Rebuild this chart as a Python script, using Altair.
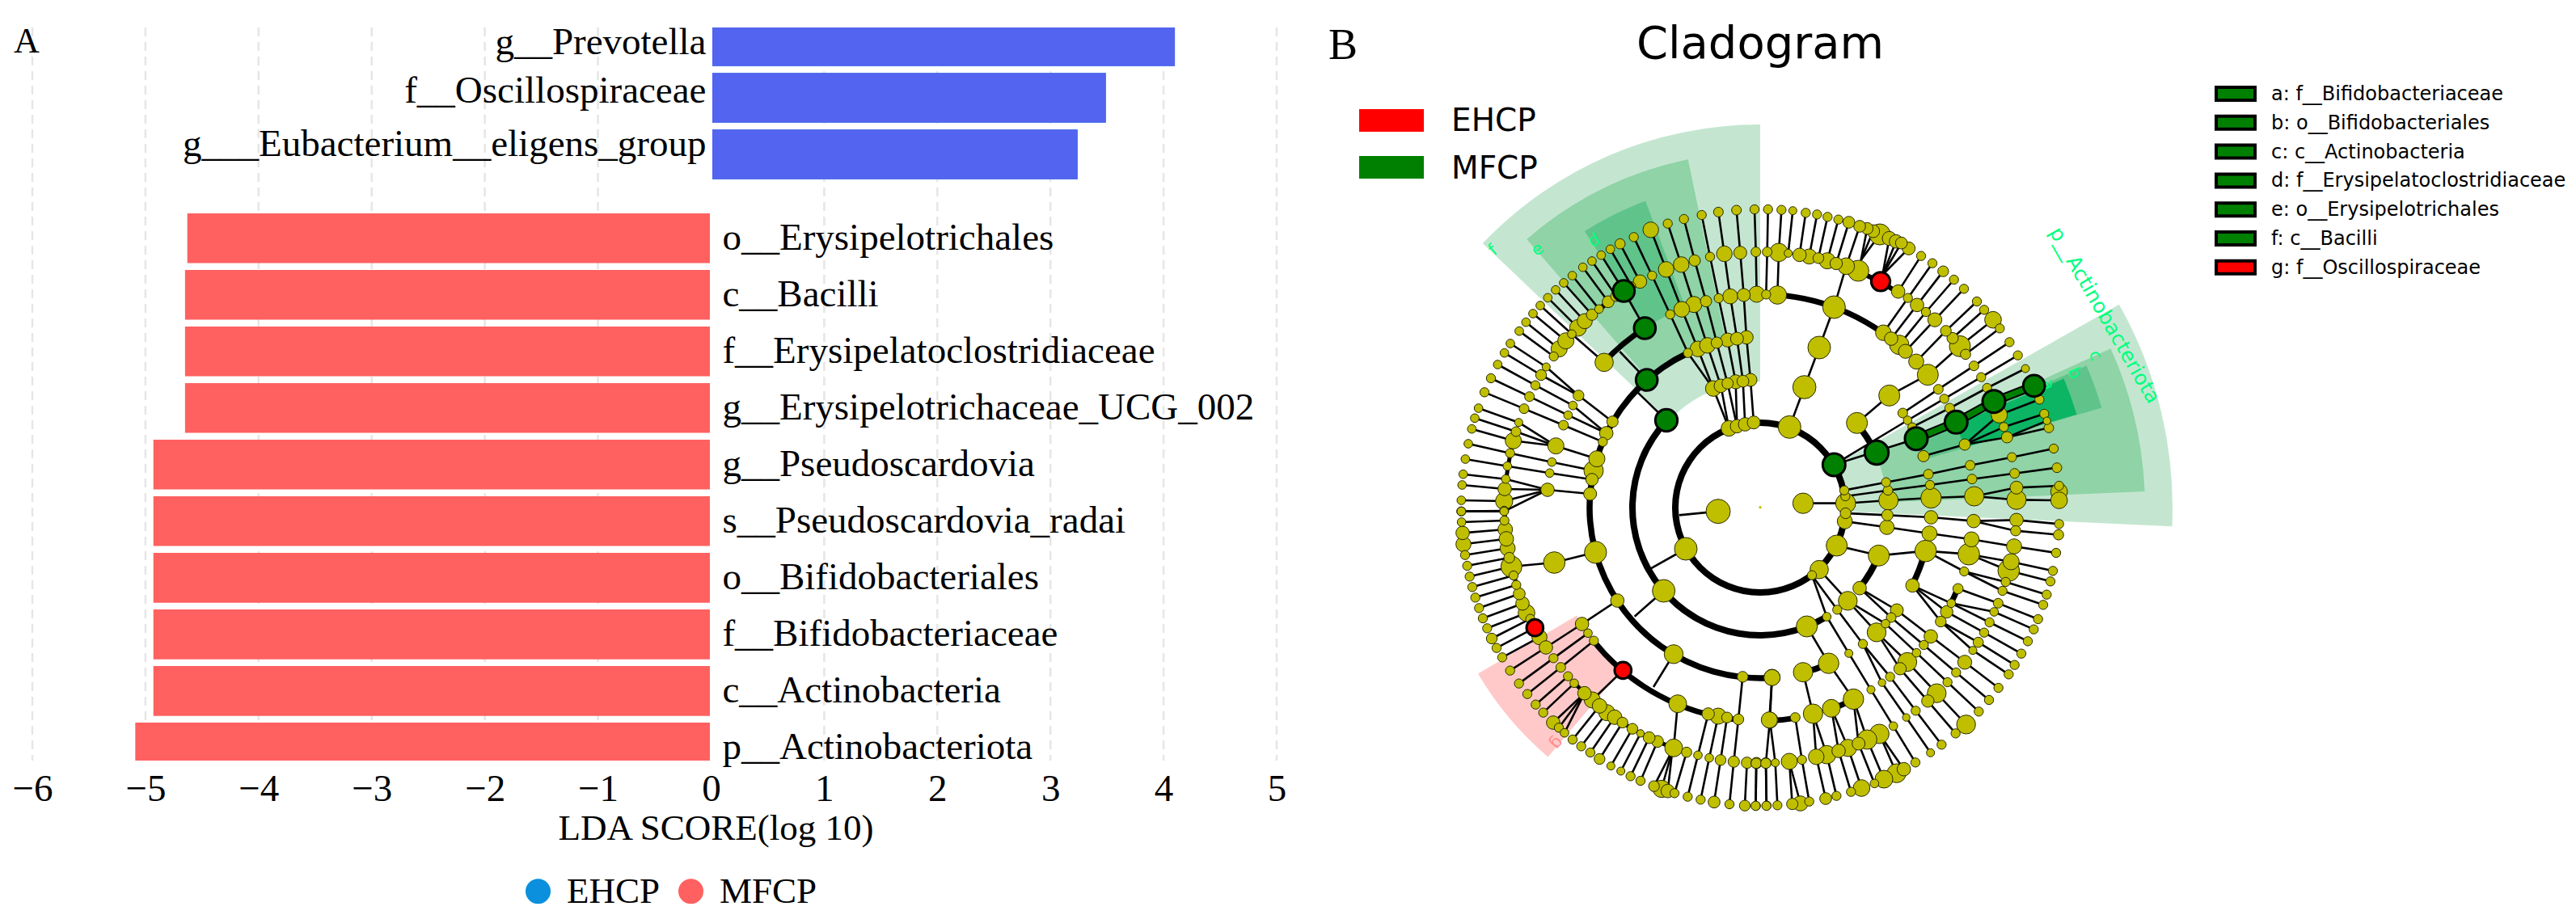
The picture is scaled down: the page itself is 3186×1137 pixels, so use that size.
import math
import altair as alt
import pandas as pd

# ---------- Panel A data ----------
taxa = ["g__Prevotella", "f__Oscillospiraceae", "g___Eubacterium__eligens_group",
        "o__Erysipelotrichales", "c__Bacilli", "f__Erysipelatoclostridiaceae",
        "g__Erysipelotrichaceae_UCG_002", "g__Pseudoscardovia", "s__Pseudoscardovia_radai",
        "o__Bifidobacteriales", "f__Bifidobacteriaceae", "c__Actinobacteria", "p__Actinobacteriota"]
lda = [4.10, 3.49, 3.24, -4.63, -4.65, -4.65, -4.65, -4.93, -4.93, -4.93, -4.93, -4.93, -5.09]
groups = ["EHCP"] * 3 + ["MFCP"] * 10
label_shift = [0.23, 0.08, 0.03] + [0.2] * 10
ticks = list(range(-6, 6))

# ---------- Panel B data: chains of nodes, (x, y, diameter) ----------
Q1 = [
 [(234,555,32),(367,642,30),(487,748,40),(613,845,42)], [(212,590,32),(348,672,40),(487,748)],
 [(187,633,32),(327,710,34),(466,785,32),(590,888,50)], [(162,684,34),(305,752,36),(448,821,32),(590,888)],
 [(138,736,34),(285,797,36),(431,858,36),(577,920,34)], [(116,795,32),(265,848,30),(403,935,60)],
 [(102,832,32),(255,882,36),(403,935),(555,983,60)], [(91,872,32),(245,916,60),(403,935)],
 [(78,927,32),(233,962,34),(388,995,32),(543,1027,72)], [(67,984,32),(223,1010,32),(380,1036,32),(537,1060,46)],
 [(59,1040,32),(217,1058,32),(372,1098,50)], [(55,1080,32),(213,1095,50),(372,1098),(530,1113,48)],
 [(52,1137,32),(211,1140,64),(372,1098)], [(52,1178,32),(211,1178,32),(372,1098)],
 [(267,509,32),(395,603,34)], [(292,476,32),(415,575,60)], [(318,444,32),(440,545,60)],
 [(345,414,32),(462,520,32),(582,625,68)], [(373,385,32),(485,497,62)], [(402,356,32),(510,472,56)],
 [(432,330,32),(537,448,42)], [(464,303,32),(563,427,32)], [(503,272,32),(597,400,44)],
 [(537,249,32),(626,379,40)], [(571,227,32),(655,360)], [(605,205,32),(684,341,30)], [(641,185,38),(715,325,50)],
 [(655,360),(733,498)], [(640,585),(740,690)], [(813,840),(705,735)], [(1005,1178,90),(860,1192)],
 [(692,160,34),(760,303,34),(827,447,34),(893,590,34),(987,722,58),(1045,870,58)],
 [(755,133,58),(812,280,58),(870,428,58),(930,575,58),(987,722)],
 [(818,110,34),(868,262,58),(915,410,60),(965,562,58),(1015,712,50),(1045,870)],
 [(878,93,34),(918,247,42),(960,398,42),(1000,552,42),(1040,703,42),(1075,862,50)],
 [(944,78,34),(975,233,34),(1007,387,34),(1040,542,52),(1070,697,52),(1075,862)],
 [(1006,67,36),(1028,222,58),(1050,380,56),(1075,537,48),(1097,695,44),(1105,855,50)],
 [(1073,60,36),(1087,218,48),(1100,375,48),(1110,532,50),(1125,690,48),(1137,848,48)],
 [(1140,57,34),(1145,215,36),(1148,372,60)], [(1190,57,34),(1187,215,36),(1183,373,34)],
]
Q2 = [
 [(100,59,34),(90,217,68),(85,375,68)], [(142,62,30),(125,220,30)], [(190,70,34),(167,226,50)],
 [(232,76,34),(203,232,56)], [(271,85,34),(237,238,40)], [(311,95,34),(270,248,60)],
 [(350,105,44),(303,258,46)], [(390,120,44),(340,268,62),(295,420,84),(240,570,84),(185,717,86),(130,865,84)],
 [(395,245),(418,128,44)], [(395,245),(440,138,48)], [(395,245),(465,150,78)], [(385,285,78)],
 [(475,300),(500,165,52)], [(475,300),(525,176,50)], [(475,300),(545,182,44)], [(475,300),(572,202,48)],
 [(618,230,34),(533,362,50)], [(660,257,34),(569,386,34),(478,515,58)], [(700,287,40),(603,412,50),(507,537,50)],
 [(740,318,34),(636,438,34),(537,560,72)], [(777,352,34),(669,467,52),(560,584,52)],
 [(825,399,34),(710,508,40),(600,622,56)], [(852,430,34),(735,535,42)],
 [(885,467,62),(762,565,78),(643,671,78),(500,748,78),(380,850,78)], [(910,499,34),(783,595,38)],
 [(946,550,34),(814,638,36),(682,725,36),(550,813,36)], [(977,599,34),(841,680,34),(704,760,34),(568,840,32),(295,1005)],
 [(1005,648,30),(863,720,34),(724,795,36),(585,865,32)], [(600,908),(295,1005)],
 [(1092,868,36),(937,903,42),(780,930,42),(627,973,42)], [(1085,842,28),(937,903)],
 [(1075,816,34),(925,865,34),(780,930)], [(1057,763,34),(908,820,60),(780,930)],
 [(1110,945,34),(955,977,34),(800,1007,36),(645,1040,36),(488,1070,34),(333,1100,34)],
 [(1122,1016,36),(965,1037,36),(807,1058,36),(651,1080,34),(495,1100,36),(337,1122,34)],
 [(1130,1083,34),(972,1090,48),(815,1122,72)], [(1130,1105,62)],
 [(1130,1137,62),(972,1135,72),(815,1122),(655,1128,76),(497,1137,72),(338,1148,74),(180,1148,76)],
]
Q3 = [
 [(52,38,34),(211,36,34)], [(53,78,32),(212,72,34)], [(57,118,50),(215,105,54)], [(60,160,56),(219,140,54)],
 [(66,200,34),(224,175,56)], [(74,240,34),(230,210,40)], [(83,280,34),(238,243,78),(397,228,80),(550,190,82)],
 [(93,319,34),(246,276,34)], [(104,358,34),(256,311,34)], [(118,397,34),(267,344,44)], [(132,435,34),(279,380,50)],
 [(148,472,34),(294,415,62)], [(165,510,40),(308,437,34)], [(183,545,34),(325,470)], [(204,580,34),(342,505,56)],
 [(233,629,34),(366,543,50),(500,456,50),(631,369,50)], [(266,677,34),(394,583,34),(522,490,32)],
 [(297,716,34),(421,617,36),(544,518,34)], [(328,755,34),(448,650,34)], [(356,785,34),(471,676,32),(509,713,50)],
 [(393,822,50),(509,713)], [(414,841,34),(509,713)], [(435,860,32),(509,713)], [(465,885,34),(565,760,54)],
 [(538,738,60),(652,628)], [(497,910,34),(592,785,60)], [(531,933,34),(621,802,54)], [(565,957,40),(650,822,40)],
 [(607,983,30),(687,845,40)], [(644,1002,30),(717,862,28)], [(680,1021,34),(749,878,44)], [(717,1038,34),(780,892,44)],
 [(767,1058,40),(835,925)], [(795,1068,64),(835,925)], [(818,1076,50),(835,925)], [(843,1084,34),(888,932,38)],
 [(840,916,66),(855,752,66)], [(892,1097,34),(930,943,32),(968,790,46)], [(940,1108,34),(972,953,32),(1005,798,60)],
 [(990,1117,44),(1014,961,40),(1038,803,40)], [(1047,1125,34),(1063,967,42),(1080,810,40),(1096,652,40)],
 [(1104,1130,40),(1112,971,42)], [(1144,1131,34),(1147,972,42)], [(1184,1131,34),(1182,973,38)],
 [(1195,812,60),(1205,655,60)], [(840,568,70),(765,690)], [(885,177,84),(755,250)], [(803,333,84),(695,428)],
]
Q4 = [
 [(1130,85,34),(972,70,50),(813,74,50),(655,60,50),(493,52,42),(338,45,40)], [(1128,125,38),(969,110,38),(813,74)],
 [(1119,192,34),(963,168,56),(805,142,56),(649,120,56),(491,97,54),(335,75,56)],
 [(1107,259,34),(952,225,60),(795,197,80),(635,185,80)], [(1098,298,34),(943,258,80),(795,197)],
 [(1084,347,34),(932,300,34),(778,261,34),(635,185)], [(1071,385,34),(920,333,34),(778,261)],
 [(1052,438,34),(904,379,36),(755,325,38)], [(1036,476,34),(889,411,32),(730,379,32),(586,313,50)],
 [(1014,520,34),(872,450,34),(730,379)], [(990,566,34),(852,488,34),(713,411,46),(586,313)],
 [(965,608,34),(830,524,38),(691,447,40),(586,313)], [(943,643,34),(810,554,30),(691,447)],
 [(905,693,34),(780,598,52),(654,502,50),(528,405,48),(390,323,50)], [(870,738,34),(748,636,34),(628,534,34),(507,432,36),(390,323)],
 [(832,781,34),(716,672,34),(601,563,32),(486,455,32),(346,370,70)], [(785,829,70),(676,713,70),(567,597,70),(453,487,70),(346,370)],
 [(746,862,34),(643,742,46),(540,622,46),(453,487)], [(694,904,34),(598,778,34),(503,652,34),(402,530,34),(307,403,34),(213,275,34)],
 [(653,934,30),(563,803,28),(473,674,28),(402,530)], [(597,970,34),(515,835,32),(432,700,30),(350,565,30),(268,429,32),(213,275)],
 [(554,995,50),(463,864,72)], [(527,1010,70),(463,864)], [(480,1032,66),(418,885,72),(367,735,76),(275,602,76),(194,465,78)],
 [(445,1048,32),(386,900,48),(367,735)], [(397,1065,62),(347,916,64),(285,769,66)], [(358,1079,34),(312,927,50),(285,769)],
 [(304,1094,34),(268,941,68),(217,789,72),(180,635,72)], [(264,1104,44),(229,949,58),(217,789)],
 [(203,1115,34),(176,960,34),(151,803,36)], [(170,1122,56),(129,966,60)], [(140,1124,42),(129,966)],
 [(85,1129,34),(77,971,30),(57,813,60),(65,654,60)], [(45,1130,34),(42,972,40),(57,813)], [(5,1131,34),(6,973,38)],
 [(635,185),(461,202,78),(305,165,78),(240,254,68),(346,370)],
]
Q_ORIGIN = {"Q1": (1790, 240), "Q2": (2170, 240), "Q3": (1790, 620), "Q4": (2170, 620)}
Q_CHAINS = {"Q1": Q1, "Q2": Q2, "Q3": Q3, "Q4": Q4}
green_nodes = [("Q1",813,840,82),("Q1",740,690,80),("Q1",733,498,80),("Q1",655,360,80),("Q2",295,1005,84),
               ("Q2",453,960,88),("Q2",600,908,84),("Q2",748,847,84),("Q2",888,770,84),("Q2",1037,712,80)]
red_nodes = [("Q2",468,325,70),("Q3",325,470,62),("Q3",652,628,62)]
root_node = [("Q2",21,1163,10)]
trunk = [("Q2",600,908),("Q2",748,847),("Q2",888,770),("Q2",1037,712)]
# rings: radius, start angle, end angle (degrees clockwise from north), stroke
rings = [(105,0,360,8),(158,148.6,313,8),(158,48.8,64.7,8),(158,112,129,8),(211,176,335,7.5),(211,156.3,165.4,7.5),
         (211,104.7,117,7.5),(264,-47,-32.7,7),(264,4.6,35,7),(264,185.9,231.3,7),(264,170.5,177.4,7),(264,154,160.5,7),
         (264,112.3,116.6,7),(316,-53.8,-28,6),(316,22.5,32.6,6),(316,236.9,285,5),(316,199.8,226.6,5)]
# shaded sectors: start, end, inner radius, outer radius, colour
sectors = [(60.5,92.6,105,510,"#C4E6D0"),(65.6,87.6,157,476,"#8FD3A6"),(66.5,73.7,210,440,"#60C48A"),(67,73.6,263,408,"#0BB564"),
           (313.6,360,156,474,"#C4E6D0"),(319,348.3,212,440,"#8FD3A6"),(327.6,339.5,264,405,"#60C48A"),
           (220.4,239.5,263,405,"#FFC9C9")]
clade_labels = [("p__Actinobacteriota",2603,390,60,25,"#00FF7F"),("c",2591,440,66,21,"#00FF7F"),("b",2565,462,68,21,"#00FF7F"),
                ("a",2532,476,70,21,"#00FF7F"),("d",1972,298,-30,21,"#00FF7F"),("e",1902,309,-38,21,"#00FF7F"),
                ("f",1847,310,-40,21,"#00FF7F"),("g",1925,919,130,21,"#FF8C8C")]
key_names = ["a: f__Bifidobacteriaceae","b: o__Bifidobacteriales","c: c__Actinobacteria","d: f__Erysipelatoclostridiaceae",
             "e: o__Erysipelotrichales","f: c__Bacilli","g: f__Oscillospiraceae"]
key_fill = ["#008000"]*6 + ["#FF0000"]

SERIF, SANS = "Liberation Serif", "DejaVu Sans"
CX, CY = 2177, 628

# ---------- Panel A ----------
rank = [i + (0.48 if i >= 3 else 0) for i in range(len(taxa))]
bars = pd.DataFrame({"taxon": taxa, "lda": lda, "group": groups, "zero": 0.0, "rank": rank})
bars["top"] = bars["rank"] - 0.44
bars["bottom"] = bars["rank"] + 0.44
bars["text_y"] = bars["rank"] + pd.Series(label_shift)
Y_DOM = [-0.243, 12.71]
ax = alt.Scale(domain=[-6, 5], range=[32, 1571], nice=False, zero=False)
ay = alt.Scale(domain=Y_DOM, range=[26, 933], nice=False, zero=False, clamp=True)
grid_df = pd.DataFrame({"tick": ticks, "y0": Y_DOM[0], "y1": Y_DOM[1]})

grid = alt.Chart(grid_df).mark_rule(color="#E6E6E6", strokeWidth=2.5, strokeDash=[11, 7]).encode(
    x=alt.X("tick:Q", scale=ax,
            axis=alt.Axis(values=ticks, orient="bottom", offset=-188, grid=False, domain=False, ticks=False,
                          labelFont=SERIF, labelFontSize=47, labelColor="black", labelPadding=12, format="d",
                          title="LDA SCORE(log 10)", titleFont=SERIF, titleFontSize=45, titleFontWeight="normal",
                          titleColor="black", titleX=877, titleY=61, labelFlush=False, labelOverlap=False)),
    y=alt.Y("y0:Q", scale=ay, axis=None), y2="y1:Q")
bar_base = alt.Chart(bars).mark_rect().encode(
    x=alt.X("lda:Q", scale=ax), x2="zero:Q",
    y=alt.Y("top:Q", scale=ay, axis=None), y2="bottom:Q",
    color=alt.Color("group:N", scale=alt.Scale(domain=["EHCP", "MFCP"], range=["#0A90DC", "#FF6060"]),
                    legend=alt.Legend(title=None, orient="none", legendX=635, legendY=1072, direction="horizontal",
                                      columns=2, symbolType="circle", symbolSize=961, symbolStrokeWidth=0,
                                      labelFont=SERIF, labelFontSize=45, labelColor="black", labelOffset=13,
                                      columnPadding=15, padding=0, symbolOpacity=1)))
bar_blue = alt.Chart(bars[bars.group == "EHCP"]).mark_rect(color="#5364F0").encode(
    x=alt.X("lda:Q", scale=ax), x2="zero:Q", y=alt.Y("top:Q", scale=ay, axis=None), y2="bottom:Q")
zero_line = alt.Chart(pd.DataFrame({"tick": [0], "y0": Y_DOM[0], "y1": Y_DOM[1]})).mark_rule(color="white", strokeWidth=3).encode(
    x=alt.X("tick:Q", scale=ax), y=alt.Y("y0:Q", scale=ay, axis=None), y2="y1:Q")
text_left = alt.Chart(bars[bars.lda > 0]).mark_text(font=SERIF, fontSize=47, align="right", baseline="alphabetic", dx=-6, color="black").encode(
    x=alt.X("zero:Q", scale=ax), y=alt.Y("text_y:Q", scale=ay, axis=None), text="taxon:N")
text_right = alt.Chart(bars[bars.lda < 0]).mark_text(font=SERIF, fontSize=47, align="left", baseline="alphabetic", dx=14, color="black").encode(
    x=alt.X("zero:Q", scale=ax), y=alt.Y("text_y:Q", scale=ay, axis=None), text="taxon:N")
panel_a = alt.layer(grid, bar_base, bar_blue, zero_line, text_left, text_right)

# ---------- Panel B ----------
bx = alt.Scale(domain=[8, 3178], range=[0, 3170], nice=False, zero=False)
by = alt.Scale(domain=[8, 1129], range=[0, 1121], nice=False, zero=False)
X = alt.X("x:Q", scale=bx, axis=None)
Y = alt.Y("y:Q", scale=by, axis=None)

def px(q, cx, cy):
    ox, oy = Q_ORIGIN[q]
    return ox + cx / 3, oy + cy / 3

edges, nodes = [], []
for q, chains in Q_CHAINS.items():
    for chain in chains:
        for i, n in enumerate(chain):
            x, y = px(q, n[0], n[1])
            if len(n) == 3:
                nodes.append({"x": x, "y": y, "s": (n[2] / 3) ** 2})
            if i + 1 < len(chain):
                x2, y2 = px(q, chain[i + 1][0], chain[i + 1][1])
                edges.append({"x": x, "y": y, "x2": x2, "y2": y2})
nodes_df = pd.DataFrame(nodes).drop_duplicates(["x", "y"]).sort_values("s", ascending=False)
edges_df = pd.DataFrame(edges)

def sector_df(rows):
    return pd.DataFrame([{"x": CX, "y": CY, "t0": math.radians(a), "t1": math.radians(b), "r0": r0, "r1": r1, "fill": c}
                         for a, b, r0, r1, c in rows])

def arc_layer(df):
    return alt.Chart(df).mark_arc(opacity=1).encode(
        x=X, y=Y, theta=alt.Theta("t0:Q", scale=None), theta2="t1:Q",
        radius=alt.Radius("r0:Q", scale=None), radius2="r1:Q", color=alt.Color("fill:N", scale=None))

def rule_layer(df, color, width):
    return alt.Chart(df).mark_rule(color=color, strokeWidth=width).encode(x=X, y=Y, x2="x2:Q", y2="y2:Q")

def special(rows):
    out = []
    for q, cx, cy, d in rows:
        x, y = px(q, cx, cy)
        out.append({"x": x, "y": y, "s": (d / 3) ** 2})
    return pd.DataFrame(out)

trunk_pts = [px(*t) for t in trunk]
trunk_df = pd.DataFrame([{"x": a[0], "y": a[1], "x2": b[0], "y2": b[1]} for a, b in zip(trunk_pts, trunk_pts[1:])])
ring_df = sector_df([(a, b, r - w / 2, r + w / 2, "#000000") for r, a, b, w in rings])

clade_df = pd.DataFrame(clade_labels, columns=["t", "x", "y", "angle", "size", "c"])
clade_text = [alt.Chart(clade_df[clade_df["size"] == sz]).mark_text(font=SANS, fontSize=sz, align="center", baseline="middle").encode(
    x=X, y=Y, text="t:N", angle=alt.Angle("a360:Q", scale=None), color=alt.Color("c:N", scale=None)
).transform_calculate(a360="(datum.angle + 360) % 360") for sz in sorted(clade_df["size"].unique())]

titles = pd.DataFrame({"t": ["Cladogram"], "x": [2177], "y": [72]})
title_mark = alt.Chart(titles).mark_text(font=SANS, fontSize=56, align="center", baseline="alphabetic", color="black").encode(x=X, y=Y, text="t:N")
letters = pd.DataFrame({"t": ["A", "B"], "x": [17, 1643], "y": [65, 73], "size": [44, 54]})
letter_a = alt.Chart(letters[letters.t == "A"]).mark_text(font=SERIF, fontSize=44, align="left", baseline="alphabetic", color="black").encode(x=X, y=Y, text="t:N")
letter_b = alt.Chart(letters[letters.t == "B"]).mark_text(font=SERIF, fontSize=54, align="left", baseline="alphabetic", color="black").encode(x=X, y=Y, text="t:N")

group_key = pd.DataFrame({"t": ["EHCP", "MFCP"], "x": [1681, 1681], "x2": [1761, 1761], "y": [135, 193], "y2": [163, 221],
                          "tx": [1795, 1795], "ty": [162, 221], "c": ["#FF0000", "#008000"]})
group_rect = alt.Chart(group_key).mark_rect().encode(x=X, x2="x2:Q", y=Y, y2="y2:Q", color=alt.Color("c:N", scale=None))
group_text = alt.Chart(group_key).mark_text(font=SANS, fontSize=39, align="left", baseline="alphabetic", color="black").encode(
    x=alt.X("tx:Q", scale=bx, axis=None), y=alt.Y("ty:Q", scale=by, axis=None), text="t:N")

clade_key = pd.DataFrame({"t": key_names, "c": key_fill, "i": range(len(key_names))})
clade_key["x"], clade_key["x2"] = 2741, 2789
clade_key["y"] = 108 + clade_key["i"] * 35.8
clade_key["y2"] = clade_key["y"] + 16
clade_key["tx"] = 2809
clade_key["ty"] = 124 + clade_key["i"] * 35.8
key_rect = alt.Chart(clade_key).mark_rect(stroke="black", strokeWidth=4).encode(x=X, x2="x2:Q", y=Y, y2="y2:Q", color=alt.Color("c:N", scale=None))
key_text = alt.Chart(clade_key).mark_text(font=SANS, fontSize=24, align="left", baseline="alphabetic", color="black").encode(
    x=alt.X("tx:Q", scale=bx, axis=None), y=alt.Y("ty:Q", scale=by, axis=None), text="t:N")

def node_layer(df, fill, stroke, sw):
    return alt.Chart(df).mark_circle(color=fill, stroke=stroke, strokeWidth=sw, opacity=1).encode(
        x=X, y=Y, size=alt.Size("s:Q", scale=None))

panel_b = alt.layer(
    arc_layer(sector_df(sectors)), *clade_text, rule_layer(edges_df, "black", 2.6), arc_layer(ring_df),
    rule_layer(trunk_df, "black", 11), rule_layer(trunk_df, "#008000", 7),
    node_layer(nodes_df, "#BFBF00", "#2A2A00", 1), node_layer(special(root_node), "#BFBF00", "#BFBF00", 0),
    node_layer(special(green_nodes), "#008000", "black", 3), node_layer(special(red_nodes), "#FF0000", "black", 3),
    title_mark, letter_a, letter_b, group_rect, group_text, key_rect, key_text)

chart = alt.layer(panel_a, panel_b).resolve_scale(x="independent", y="independent", color="independent").properties(
    width=3170, height=1121, padding=0, background="white").configure_view(stroke=None)

chart.save("out.html", embed_options={"renderer": "svg", "actions": False})
